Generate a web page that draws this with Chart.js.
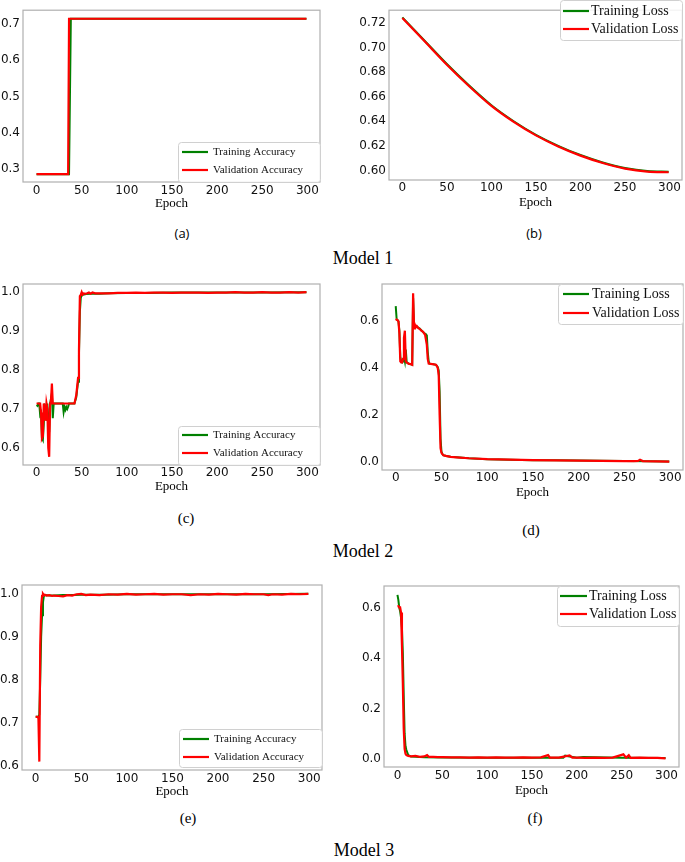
<!DOCTYPE html>
<html>
<head>
<meta charset="utf-8">
<script src="https://cdn.jsdelivr.net/npm/chart.js@4.4.1/dist/chart.umd.min.js"></script>
<style>
  body { margin: 0; background: #fff; }
  #page { position: relative; width: 685px; height: 862px; overflow: hidden; }
  canvas { position: absolute; }
  .cap { position: absolute; transform: translate(-50%, -50%); white-space: nowrap; color: #000; }
  .sans { font-family: "Open Sans", "Liberation Sans", sans-serif; font-size: 13px; }
  .serif { font-family: "Liberation Serif", "Times New Roman", serif; font-size: 15px; }
  .model { font-family: "Liberation Serif", "Times New Roman", serif; font-size: 18px; }
</style>
</head>
<body>
<div id="page">
  <canvas id="cA"></canvas>
  <canvas id="cB"></canvas>
  <canvas id="cC"></canvas>
  <canvas id="cD"></canvas>
  <canvas id="cE"></canvas>
  <canvas id="cF"></canvas>

  <div class="cap sans" style="left:182px;top:233px">(a)</div>
  <div class="cap sans" style="left:534px;top:233px">(b)</div>
  <div class="cap model" style="left:363px;top:258px">Model 1</div>

  <div class="cap serif" style="left:186px;top:518px">(c)</div>
  <div class="cap serif" style="left:531px;top:530px">(d)</div>
  <div class="cap model" style="left:363px;top:551px">Model 2</div>

  <div class="cap serif" style="left:188px;top:818px">(e)</div>
  <div class="cap serif" style="left:535px;top:818px">(f)</div>
  <div class="cap model" style="left:364px;top:850px">Model 3</div>
</div>

<script>
// ---- data ----
var xTicks = [0, 50, 100, 150, 200, 250, 300];
var accTicks = [0.6, 0.7, 0.8, 0.9, 1.0];
var lossTicks = [0.0, 0.2, 0.4, 0.6];

// Model 1
var accTicksA = [0.3, 0.4, 0.5, 0.6, 0.7];
var epochA_train = [0, 36, 38, 299];
var trainAccA = [0.286, 0.286, 0.714, 0.714];
var epochA_val = [0, 35, 36, 299];
var valAccA = [0.286, 0.286, 0.714, 0.714];

var lossTicksB = [0.60, 0.62, 0.64, 0.66, 0.68, 0.70, 0.72];
var epochB = [0, 25, 50, 75, 100, 125, 150, 175, 200, 225, 250, 275, 299];
var trainLossB = [0.7245, 0.7055, 0.6865, 0.669, 0.653, 0.640, 0.629, 0.620, 0.6125, 0.6065, 0.602, 0.5995, 0.599];
var valLossB = [0.724, 0.705, 0.686, 0.6685, 0.6525, 0.6395, 0.6285, 0.6195, 0.612, 0.606, 0.6015, 0.599, 0.5985];

// Model 2
var epochC_train = [0, 1, 2, 3, 4, 5, 6, 7, 8, 9, 10, 11, 12, 13, 14, 15, 16, 17, 18, 19, 20, 29, 30, 31, 32, 33, 34, 35, 36, 42, 44, 46, 47, 48, 49, 50, 55, 60, 70, 80, 100, 120, 150, 200, 250, 299];
var trainAccC = [0.71, 0.708, 0.714, 0.714, 0.685, 0.69, 0.625, 0.62, 0.66, 0.714, 0.69, 0.67, 0.714, 0.66, 0.64, 0.714, 0.714, 0.74, 0.676, 0.714, 0.714, 0.714, 0.692, 0.705, 0.698, 0.705, 0.70, 0.706, 0.714, 0.714, 0.73, 0.77, 0.84, 0.95, 0.985, 0.993, 0.995, 0.996, 0.996, 0.997, 0.998, 0.998, 0.999, 0.999, 0.999, 1.0];
var epochC_val = [0, 4, 5, 6, 7, 8, 9, 10, 11, 12, 13, 14, 15, 16, 17, 18, 42, 44, 46, 47, 48, 49, 50, 51, 52, 55, 58, 60, 62, 65, 70, 80, 90, 100, 110, 120, 130, 140, 150, 160, 170, 180, 190, 200, 210, 220, 230, 240, 250, 260, 270, 280, 290, 299];
var valAccC = [0.714, 0.714, 0.69, 0.625, 0.63, 0.714, 0.70, 0.67, 0.714, 0.70, 0.60, 0.577, 0.714, 0.72, 0.765, 0.714, 0.714, 0.735, 0.78, 0.85, 0.99, 0.993, 1.0, 0.994, 0.997, 0.996, 0.999, 0.996, 0.999, 0.997, 0.997, 0.997, 0.998, 0.998, 0.999, 0.998, 0.999, 0.999, 0.998, 0.999, 0.999, 0.999, 0.998, 0.999, 0.999, 1.0, 0.999, 0.999, 1.0, 0.999, 0.999, 1.0, 0.999, 1.0];

var epochD_train = [0, 1, 2, 3, 4, 5, 6, 7, 8, 9, 10, 11, 12, 14, 16, 18, 19, 20, 21, 22, 23, 24, 25, 26, 27, 28, 29, 30, 31, 32, 33, 34, 35, 36, 37, 40, 44, 46, 47, 48, 49, 50, 51, 52, 55, 60, 70, 80, 100, 125, 150, 175, 200, 225, 250, 275, 299];
var trainLossD = [0.665, 0.61, 0.605, 0.60, 0.56, 0.45, 0.43, 0.425, 0.43, 0.45, 0.43, 0.48, 0.425, 0.42, 0.418, 0.415, 0.70, 0.58, 0.58, 0.578, 0.578, 0.575, 0.572, 0.57, 0.566, 0.562, 0.558, 0.555, 0.55, 0.548, 0.545, 0.54, 0.47, 0.43, 0.42, 0.418, 0.415, 0.405, 0.39, 0.30, 0.10, 0.045, 0.035, 0.03, 0.027, 0.023, 0.02, 0.017, 0.013, 0.011, 0.009, 0.008, 0.007, 0.006, 0.005, 0.004, 0.003];
var epochD_val = [0, 1, 2, 3, 4, 5, 6, 7, 8, 9, 10, 11, 12, 14, 16, 18, 19, 20, 21, 22, 23, 24, 25, 26, 27, 28, 29, 30, 31, 32, 33, 34, 35, 36, 40, 44, 45, 46, 47, 48, 49, 50, 52, 55, 60, 70, 80, 100, 125, 150, 175, 200, 225, 250, 260, 265, 267, 270, 285, 299];
var valLossD = [0.61, 0.607, 0.605, 0.60, 0.55, 0.43, 0.425, 0.425, 0.44, 0.53, 0.56, 0.43, 0.425, 0.42, 0.418, 0.415, 0.72, 0.57, 0.585, 0.575, 0.58, 0.575, 0.57, 0.568, 0.565, 0.56, 0.558, 0.555, 0.548, 0.545, 0.545, 0.50, 0.44, 0.42, 0.418, 0.415, 0.41, 0.40, 0.37, 0.20, 0.06, 0.04, 0.03, 0.027, 0.023, 0.02, 0.017, 0.013, 0.011, 0.009, 0.008, 0.007, 0.006, 0.005, 0.005, 0.006, 0.011, 0.005, 0.004, 0.003];

// Model 3
var epochE_train = [0, 1, 2, 3, 4, 5, 6, 7, 8, 9, 10, 15, 20, 30, 40, 50, 75, 100, 150, 200, 250, 299];
var trainAccE = [0.714, 0.714, 0.714, 0.712, 0.72, 0.80, 0.90, 0.95, 0.98, 0.995, 0.997, 0.996, 0.996, 0.997, 0.997, 0.998, 0.998, 0.999, 0.999, 0.999, 0.999, 1.0];
var epochE_val = [0, 1, 2, 3, 4, 5, 6, 7, 8, 9, 10, 12, 15, 18, 20, 25, 30, 35, 40, 45, 50, 55, 60, 70, 80, 90, 100, 110, 120, 130, 140, 150, 160, 170, 180, 190, 200, 210, 220, 230, 240, 250, 255, 260, 270, 280, 290, 299];
var valAccE = [0.714, 0.714, 0.714, 0.712, 0.61, 0.88, 0.97, 0.995, 1.0, 0.997, 0.998, 0.996, 0.997, 0.995, 0.996, 0.995, 0.994, 0.997, 0.996, 0.999, 1.0, 0.997, 0.998, 0.997, 0.999, 0.998, 1.0, 0.998, 0.999, 1.0, 0.998, 0.999, 0.999, 0.997, 0.999, 0.998, 1.0, 0.999, 0.998, 1.0, 0.999, 0.999, 0.997, 0.999, 0.998, 1.0, 0.999, 1.0];

var epochF_train = [0, 1, 2, 3, 4, 5, 6, 7, 8, 9, 10, 11, 12, 15, 20, 30, 50, 100, 150, 185, 187, 200, 207, 250, 299];
var trainLossF = [0.65, 0.63, 0.60, 0.585, 0.56, 0.52, 0.42, 0.25, 0.10, 0.05, 0.035, 0.025, 0.015, 0.01, 0.009, 0.007, 0.006, 0.005, 0.005, 0.005, 0.013, 0.005, 0.008, 0.005, 0.004];
var epochF_val = [0, 1, 2, 3, 4, 5, 6, 7, 8, 9, 10, 12, 15, 20, 25, 30, 33, 35, 40, 45, 50, 60, 70, 80, 90, 100, 110, 120, 130, 140, 150, 160, 168, 170, 180, 192, 195, 200, 210, 220, 230, 240, 252, 255, 258, 260, 270, 280, 290, 299];
var valLossF = [0.605, 0.605, 0.60, 0.60, 0.58, 0.45, 0.30, 0.12, 0.04, 0.02, 0.015, 0.012, 0.01, 0.012, 0.008, 0.01, 0.015, 0.008, 0.008, 0.007, 0.007, 0.006, 0.006, 0.005, 0.006, 0.005, 0.006, 0.005, 0.005, 0.006, 0.005, 0.006, 0.015, 0.005, 0.005, 0.014, 0.005, 0.005, 0.004, 0.005, 0.004, 0.005, 0.018, 0.005, 0.015, 0.004, 0.005, 0.004, 0.004, 0.002];

// ---- drawing ----
var GREEN = '#008000', RED = '#ff0000';

function pairs(xs, ys) {
  return xs.map(function (x, i) { return { x: x, y: ys[i] }; });
}

// plot frame + matplotlib-style legend box
var framePlugin = {
  id: 'frame',
  afterDatasetsDraw: function (chart, args, opts) {
    var a = chart.chartArea, ctx = chart.ctx;
    ctx.save();
    ctx.strokeStyle = '#b0b0b0';
    ctx.lineWidth = 1.2;
    ctx.strokeRect(a.left, a.top, a.right - a.left, a.bottom - a.top);

    var L = opts.legend;
    if (L) {
      ctx.beginPath();
      ctx.roundRect(L.x + 0.5, L.y + 0.5, L.w, L.h, 3);
      ctx.fillStyle = 'rgba(255,255,255,0.85)';
      ctx.fill();
      ctx.strokeStyle = '#d0d0d0';
      ctx.lineWidth = 1;
      ctx.stroke();
      ctx.font = L.size + 'px "Liberation Serif", "Times New Roman", serif';
      ctx.textBaseline = 'middle';
      ctx.textAlign = 'left';
      chart.data.datasets.forEach(function (ds, i) {
        var yy = L.rows[i];
        ctx.strokeStyle = ds.borderColor;
        ctx.lineWidth = 2.2;
        ctx.beginPath();
        ctx.moveTo(L.lineX, yy);
        ctx.lineTo(L.lineX + L.lineLen, yy);
        ctx.stroke();
        ctx.fillStyle = '#111';
        ctx.fillText(ds.label, L.textX, yy + 0.5);
      });
    }
    ctx.restore();
  }
};

function makePanel(id, box, plot, series, y, legend) {
  var cv = document.getElementById(id);
  cv.width = box.w; cv.height = box.h;
  cv.style.left = box.left + 'px'; cv.style.top = box.top + 'px';

  var yw = plot.l - box.left;
  var xh = box.top + box.h - plot.b;

  var leg = {
    x: legend.x - box.left, y: legend.y - box.top, w: legend.w, h: legend.h,
    rows: legend.rows.map(function (r) { return r - box.top; }),
    lineX: legend.lineX - box.left, lineLen: legend.lineLen,
    textX: legend.textX - box.left, size: legend.size
  };

  var smooth = series.smooth ? 'monotone' : 'default';

  return new Chart(cv, {
    type: 'line',
    data: {
      datasets: [
        { label: series.labels[0], data: series.train, borderColor: GREEN, backgroundColor: GREEN,
          borderWidth: 2, pointRadius: 0, fill: false, order: 1, cubicInterpolationMode: smooth },
        { label: series.labels[1], data: series.val, borderColor: RED, backgroundColor: RED,
          borderWidth: 2.2, pointRadius: 0, fill: false, order: 0, cubicInterpolationMode: smooth }
      ]
    },
    options: {
      responsive: false,
      animation: false,
      events: [],
      layout: { padding: { top: plot.t - box.top, right: box.left + box.w - plot.r, left: 0, bottom: 0 } },
      plugins: {
        legend: { display: false },
        tooltip: { enabled: false },
        frame: { legend: leg }
      },
      scales: {
        x: {
          type: 'linear', min: -15, max: 314,
          grid: { display: false, drawTicks: false },
          border: { display: false },
          afterBuildTicks: function (s) { s.ticks = xTicks.map(function (v) { return { value: v }; }); },
          afterFit: function (s) { s.height = xh; },
          ticks: {
            autoSkip: false, maxRotation: 0, padding: plot.tp, color: '#111',
            font: { family: 'DejaVu Sans', size: 12 },
            callback: function (v) { return String(v); }
          },
          title: {
            display: true, text: 'Epoch', padding: 0, color: '#000',
            font: { family: '"Liberation Serif", "Times New Roman", serif', size: 13, lineHeight: 1 }
          }
        },
        y: {
          min: y.min, max: y.max,
          grid: { display: false, drawTicks: false },
          border: { display: false },
          afterBuildTicks: function (s) { s.ticks = y.ticks.map(function (v) { return { value: v }; }); },
          afterFit: function (s) { s.width = yw; },
          ticks: {
            autoSkip: false, padding: 3, color: '#111',
            font: { family: 'DejaVu Sans', size: 12 },
            callback: function (v) { return Number(v).toFixed(y.dec); }
          }
        }
      }
    },
    plugins: [framePlugin]
  });
}

var accLabels = ['Training Accuracy', 'Validation Accuracy'];
var lossLabels = ['Training Loss', 'Validation Loss'];

makePanel('cA',
  { left: 0, top: 0, w: 330, h: 210 },
  { l: 23, t: 1, r: 320, b: 182, tp: 2 },
  { labels: accLabels, train: pairs(epochA_train, trainAccA), val: pairs(epochA_val, valAccA) },
  { min: 0.2645, max: 0.7375, ticks: accTicksA, dec: 1 },
  { x: 178, y: 142, w: 142, h: 40, rows: [152, 170], lineX: 182, lineLen: 26, textX: 213, size: 11 });

makePanel('cB',
  { left: 340, top: 0, w: 345, h: 209 },
  { l: 389, t: 1, r: 682, b: 180, tp: 1 },
  { labels: lossLabels, train: pairs(epochB, trainLossB), val: pairs(epochB, valLossB), smooth: true },
  { min: 0.5922, max: 0.7303, ticks: lossTicksB, dec: 2 },
  { x: 560, y: 0, w: 122, h: 40, rows: [11, 29], lineX: 563, lineLen: 26, textX: 591, size: 14 });

makePanel('cC',
  { left: 0, top: 270, w: 330, h: 223 },
  { l: 23, t: 284, r: 320, b: 465, tp: 1 },
  { labels: accLabels, train: pairs(epochC_train, trainAccC), val: pairs(epochC_val, valAccC) },
  { min: 0.556, max: 1.021, ticks: accTicks, dec: 1 },
  { x: 178, y: 426, w: 142, h: 39, rows: [435, 453], lineX: 182, lineLen: 26, textX: 213, size: 11 });

makePanel('cD',
  { left: 340, top: 270, w: 345, h: 229 },
  { l: 382, t: 284, r: 683, b: 470, tp: 1 },
  { labels: lossLabels, train: pairs(epochD_train, trainLossD), val: pairs(epochD_val, valLossD) },
  { min: -0.033, max: 0.759, ticks: lossTicks, dec: 1 },
  { x: 558, y: 284, w: 125, h: 40, rows: [294, 313], lineX: 563, lineLen: 26, textX: 592, size: 14 });

makePanel('cE',
  { left: 0, top: 570, w: 330, h: 228 },
  { l: 22, t: 585, r: 322, b: 770, tp: 2 },
  { labels: accLabels, train: pairs(epochE_train, trainAccE), val: pairs(epochE_val, valAccE) },
  { min: 0.5905, max: 1.0205, ticks: accTicks, dec: 1 },
  { x: 179, y: 729, w: 143, h: 38, rows: [739, 757], lineX: 183, lineLen: 26, textX: 214, size: 11 });

makePanel('cF',
  { left: 340, top: 570, w: 345, h: 227 },
  { l: 384, t: 586, r: 679, b: 767, tp: 2 },
  { labels: lossLabels, train: pairs(epochF_train, trainLossF), val: pairs(epochF_val, valLossF) },
  { min: -0.032, max: 0.685, ticks: lossTicks, dec: 1 },
  { x: 557, y: 586, w: 122, h: 40, rows: [596, 614], lineX: 560, lineLen: 27, textX: 589, size: 14 });
</script>
</body>
</html>
